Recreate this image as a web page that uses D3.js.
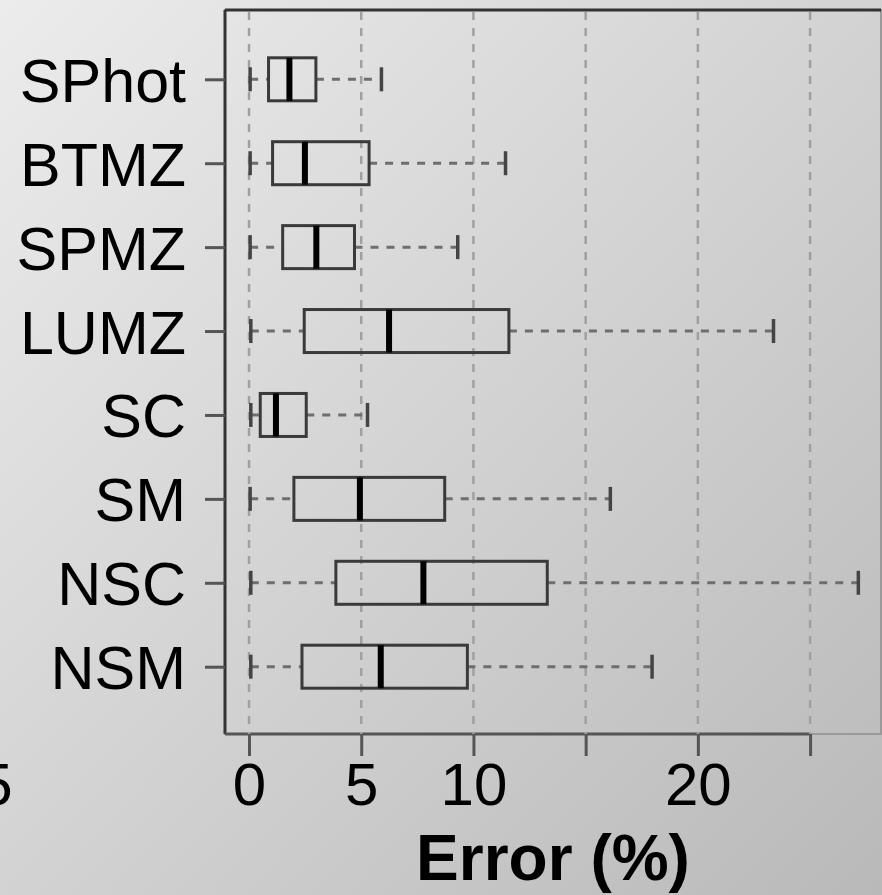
<!DOCTYPE html>
<html>
<head>
<meta charset="utf-8">
<script src="https://cdn.jsdelivr.net/npm/d3@7"></script>
<style>
html,body{margin:0;padding:0;overflow:hidden;}
svg{display:block;}
</style>
</head>
<body>
<svg id="chart" width="882" height="895"></svg>
<script>
// ---- data ----
const categories = ["SPhot","BTMZ","SPMZ","LUMZ","SC","SM","NSC","NSM"];
const whiskerLow  = [0.05, 0.05, 0.05, 0.08, 0.08, 0.05, 0.08, 0.08];
const q1          = [0.87, 1.05, 1.5, 2.46, 0.5, 2.0, 3.87, 2.36];
const median      = [1.8, 2.49, 3.0, 6.24, 1.2, 4.94, 7.77, 5.87];
const q3          = [2.98, 5.35, 4.7, 11.58, 2.55, 8.72, 13.29, 9.73];
const whiskerHigh = [5.9, 11.43, 9.3, 23.37, 5.28, 16.1, 27.15, 17.96];
const tickValues  = [0, 5, 10, 15, 20, 25];
const tickLabels  = ["0", "5", "10", "", "20", ""];
const xTitle = "Error (%)";

const svg = d3.select("#chart");
const W = 882, H = 895;

// background gradient
const defs = svg.append("defs");
const grad = defs.append("linearGradient").attr("id","bg")
  .attr("x1","0").attr("y1","0").attr("x2","1").attr("y2","1");
grad.append("stop").attr("offset","0").attr("stop-color","#ececec");
grad.append("stop").attr("offset","1").attr("stop-color","#b9b9b9");
svg.append("rect").attr("width",W).attr("height",H).attr("fill","url(#bg)");

const plot = {left:225, right:881, top:10, bottom:734};
const x = d3.scaleLinear().domain([-1.07, 28.16]).range([plot.left, plot.right]);
const y = d3.scalePoint().domain(categories).range([79.3, 666.7]);

const font = "'Liberation Sans', Arial, Helvetica, sans-serif";

// frame
svg.append("rect")
  .attr("x", plot.left).attr("y", plot.top)
  .attr("width", plot.right - plot.left).attr("height", plot.bottom - plot.top)
  .attr("fill","none").attr("stroke","#9a9a9a").attr("stroke-width",2);
svg.append("line").attr("x1",plot.left).attr("x2",plot.right).attr("y1",plot.top).attr("y2",plot.top)
  .attr("stroke","#333").attr("stroke-width",3);
svg.append("line").attr("x1",plot.left).attr("x2",plot.left).attr("y1",plot.top).attr("y2",plot.bottom)
  .attr("stroke","#333").attr("stroke-width",3);
svg.append("line").attr("x1",plot.left).attr("x2",x(25)).attr("y1",plot.bottom).attr("y2",plot.bottom)
  .attr("stroke","#555").attr("stroke-width",3);

// vertical grid
svg.append("g").selectAll("line").data(tickValues).join("line")
  .attr("x1", d => x(d)).attr("x2", d => x(d))
  .attr("y1", plot.top + 2).attr("y2", plot.bottom)
  .attr("stroke","#a0a0a0").attr("stroke-width",2.5)
  .attr("stroke-dasharray","8,8");

// x axis
const xAxis = d3.axisBottom(x).tickValues(tickValues)
  .tickFormat((d,i) => tickLabels[i]).tickSize(22).tickPadding(10);
const gx = svg.append("g").attr("transform", `translate(0,${plot.bottom})`).call(xAxis);
gx.select(".domain").remove();
gx.selectAll(".tick line").attr("stroke","#555").attr("stroke-width",3);
gx.selectAll(".tick text").attr("font-family",font).attr("font-size",60).attr("fill","#000")
  .attr("dy",null).attr("y",71).attr("dominant-baseline","auto");

// y axis
const yAxis = d3.axisLeft(y).tickSize(20).tickPadding(19);
const gy = svg.append("g").attr("transform", `translate(${plot.left},0)`).call(yAxis);
gy.select(".domain").remove();
gy.selectAll(".tick line").attr("stroke","#555").attr("stroke-width",3);
gy.selectAll(".tick text").attr("font-family",font).attr("font-size",61).attr("fill","#000")
  .attr("dy","0.36em");

// boxes
const boxH = 43;
const data = categories.map((c,i) => ({c, lo:whiskerLow[i], q1:q1[i], med:median[i], q3:q3[i], hi:whiskerHigh[i]}));
const g = svg.append("g");
const row = g.selectAll("g").data(data).join("g");

// whiskers (dashed)
row.append("line").attr("x1", d => x(d.lo)).attr("x2", d => x(d.q1))
  .attr("y1", d => y(d.c)).attr("y2", d => y(d.c))
  .attr("stroke","#6e6e6e").attr("stroke-width",3).attr("stroke-dasharray","8,8");
row.append("line").attr("x1", d => x(d.q3)).attr("x2", d => x(d.hi))
  .attr("y1", d => y(d.c)).attr("y2", d => y(d.c))
  .attr("stroke","#6e6e6e").attr("stroke-width",3).attr("stroke-dasharray","8,8");
// caps
row.append("line").attr("x1", d => x(d.lo)).attr("x2", d => x(d.lo))
  .attr("y1", d => y(d.c) - 12).attr("y2", d => y(d.c) + 12)
  .attr("stroke","#444").attr("stroke-width",3.5);
row.append("line").attr("x1", d => x(d.hi)).attr("x2", d => x(d.hi))
  .attr("y1", d => y(d.c) - 12).attr("y2", d => y(d.c) + 12)
  .attr("stroke","#444").attr("stroke-width",3.5);
// box
row.append("rect").attr("x", d => x(d.q1)).attr("width", d => x(d.q3) - x(d.q1))
  .attr("y", d => y(d.c) - boxH/2).attr("height", boxH)
  .attr("fill","none").attr("stroke","#3a3a3a").attr("stroke-width",3);
// median
row.append("line").attr("x1", d => x(d.med)).attr("x2", d => x(d.med))
  .attr("y1", d => y(d.c) - boxH/2).attr("y2", d => y(d.c) + boxH/2)
  .attr("stroke","#000").attr("stroke-width",6);

// x title
svg.append("text").attr("x", 553).attr("y", 880).attr("text-anchor","middle")
  .attr("font-family",font).attr("font-weight","bold").attr("font-size",64).attr("fill","#000")
  .text(xTitle);

// partial label from neighbouring panel at left edge
svg.append("text").attr("x", -4).attr("y", 805).attr("text-anchor","middle")
  .attr("font-family",font).attr("font-size",60).attr("fill","#000").text("5");
</script>
</body>
</html>
